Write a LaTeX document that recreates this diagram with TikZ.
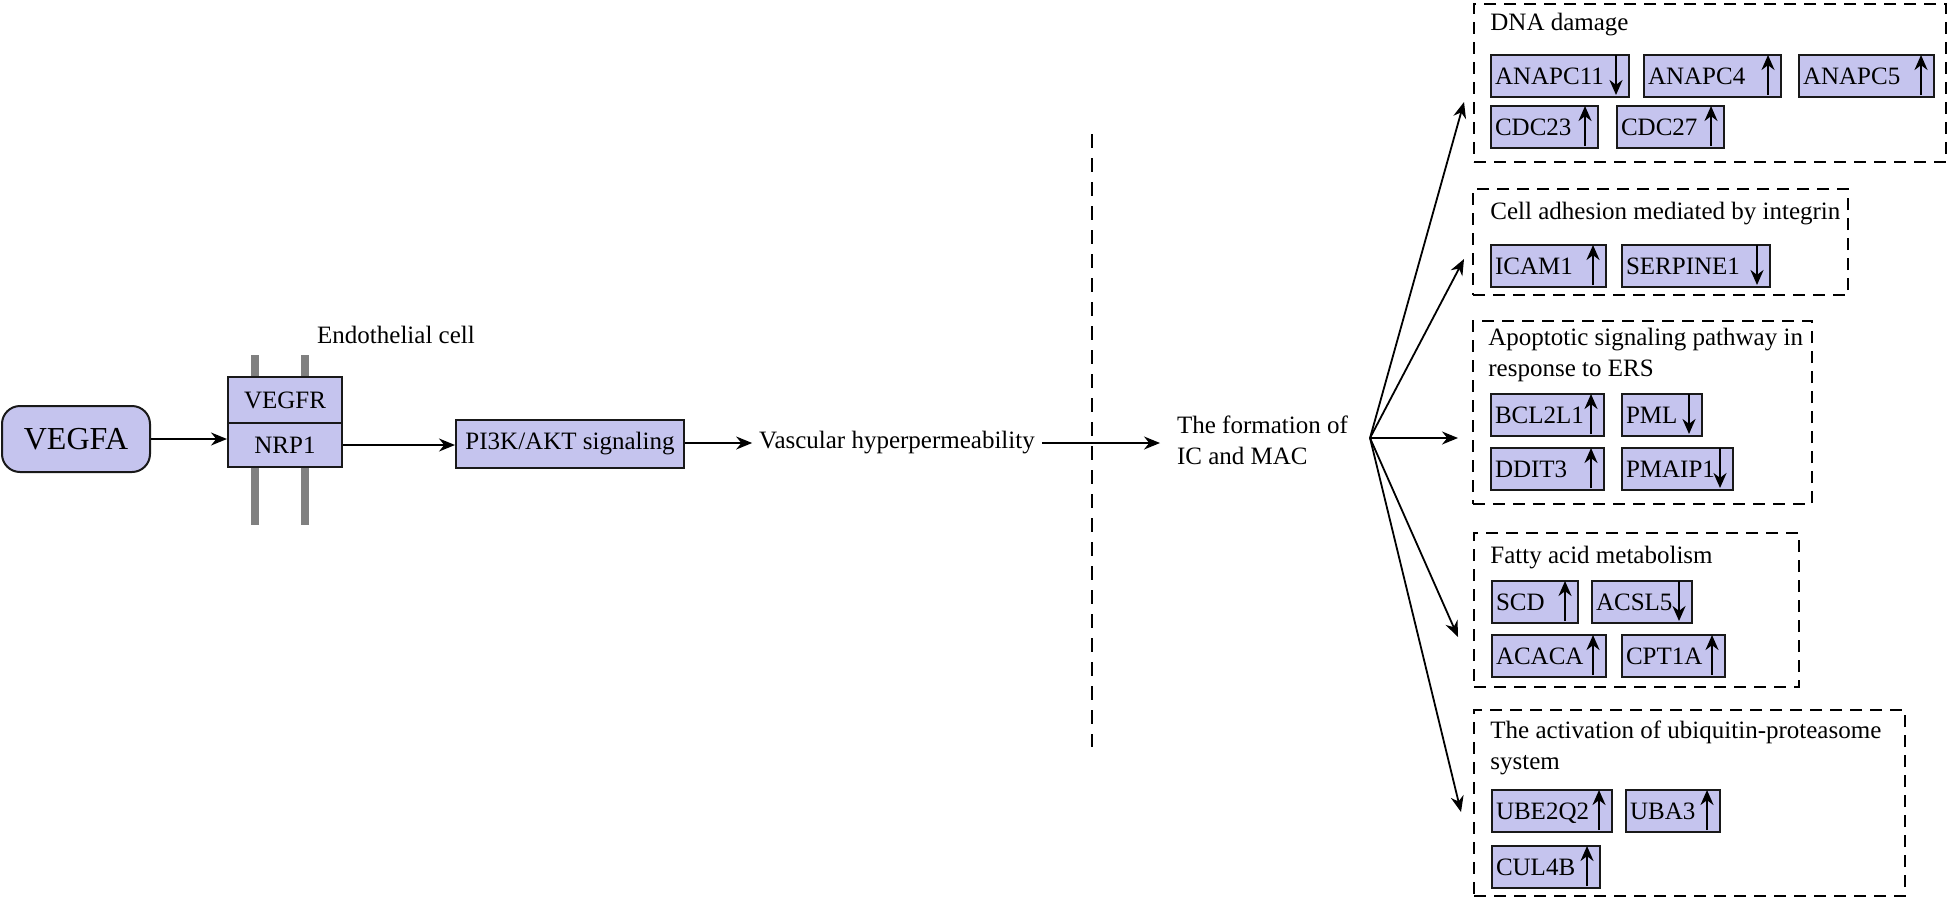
\documentclass[tikz,border=0pt]{standalone}
\usepackage{fontspec}
\setmainfont{Liberation Serif}
\usetikzlibrary{arrows.meta}

\definecolor{lav}{RGB}{197,196,238}
\definecolor{memgrey}{RGB}{128,128,128}

\tikzset{
  box/.style={draw=black!90, fill=lav, line width=1pt},
  gene/.style={box, anchor=north west, inner xsep=2pt, inner ysep=0pt, minimum height=21pt, align=left, text depth=-1pt},
  group/.style={draw, line width=1pt, dash pattern=on 6pt off 4pt},
  flow/.style={-{Stealth[length=8pt,width=6.5pt]}, line width=0.9pt},
  tick/.style={-{Stealth[length=7.5pt,width=6.5pt]}, line width=1.2pt},
  title/.style={anchor=west, inner sep=0pt, align=left},
}
% arrows inside the gene boxes
\newcommand{\upar}[1]{\draw[tick] ([xshift=-7pt,yshift=1.5pt]#1.south east) -- ([xshift=-7pt,yshift=-0.5pt]#1.north east);}
\newcommand{\dnar}[1]{\draw[tick] ([xshift=-7pt,yshift=-0.5pt]#1.north east) -- ([xshift=-7pt,yshift=1.5pt]#1.south east);}

\begin{document}
\begin{tikzpicture}[x=0.5pt, y=-0.5pt, font=\fontsize{12.5}{15.5}\selectfont]
\useasboundingbox (0,0) rectangle (1952,900);

% membrane
\draw[memgrey, line width=4pt] (255,355) -- (255,525);
\draw[memgrey, line width=4pt] (305,355) -- (305,525);

\node[box, rounded corners=9pt, minimum width=74pt, minimum height=33pt, font=\fontsize{16}{19}\selectfont] (VEGFA) at (76,439) {VEGFA};
\node (cell) at (396,335) {Endothelial cell};
\node[box, minimum width=57pt, minimum height=23pt, inner sep=0pt] (VEGFR) at (285,400) {VEGFR};
\node[box, minimum width=57pt, minimum height=22pt, inner sep=0pt] (NRP1) at (285,445) {NRP1};
\node[box, minimum width=114pt, minimum height=24pt] (PI3K) at (570,444) {PI3K/AKT signaling};
\node (vasc) at (897,443) {Vascular hyperpermeability};
\node[anchor=west, align=left] (form) at (1170,440) {The formation of\\IC and MAC};
\coordinate (fan) at (1370,438);

\draw[flow] (VEGFA.east) -- (VEGFA.east -| NRP1.west);
\draw[flow] (NRP1.east) -- (NRP1.east -| PI3K.west);
\draw[flow] (PI3K.east |- vasc.west) -- (vasc.west);
\draw[flow] (vasc.east) -- ([xshift=-5pt]vasc.east -| form.west);

\draw[line width=0.7pt, dash pattern=on 7pt off 5pt] (1092,134) -- (1092,747);

% groups
\node[group, minimum width=236pt, minimum height=79pt] (dna) at (1710,83) {};
\node[group, minimum width=187.5pt, minimum height=53pt] (adh) at (1660.5,242) {};
\node[group, minimum width=169.5pt, minimum height=91.5pt] (apo) at (1642.5,412.5) {};
\node[group, minimum width=162.5pt, minimum height=77pt] (fat) at (1636.5,610) {};
\node[group, minimum width=215.5pt, minimum height=93pt] (ubi) at (1689.5,803) {};

\draw[flow] (fan) -- ([shift={(-4.5pt,-9.5pt)}]dna.west);
\draw[flow] (fan) -- ([shift={(-4pt,-8.5pt)}]adh.west);
\draw[flow] (fan) -- ([shift={(-7pt,-12.75pt)}]apo.west);
\draw[flow] (fan) -- ([shift={(-7.5pt,-13.5pt)}]fat.west);
\draw[flow] (fan) -- ([shift={(-6pt,-4.5pt)}]ubi.west);

\node[title] (dnat) at (1490,25) {DNA damage};
\node[title] (adht) at (1490,214) {Cell adhesion mediated by integrin};
\node[title] (apot) at (1488,355) {Apoptotic signaling pathway in\\response to ERS};
\node[title] (fatt) at (1490,558) {Fatty acid metabolism};
\node[title] (ubit) at (1490,748) {The activation of ubiquitin-proteasome\\system};

% DNA damage
\node[gene, text width=65pt] (ANAPC11) at (1490,54) {ANAPC11};
\node[gene, text width=64.5pt] (ANAPC4) at (1643,54) {ANAPC4};
\node[gene, text width=63.5pt] (ANAPC5) at (1798,54) {ANAPC5};
\node[gene, text width=49.5pt] (CDC23) at (1490,105) {CDC23};
\node[gene, text width=49.5pt] (CDC27) at (1616,105) {CDC27};
\dnar{ANAPC11} \upar{ANAPC4} \upar{ANAPC5} \upar{CDC23} \upar{CDC27}

% cell adhesion
\node[gene, text width=53.5pt] (ICAM1) at (1490,244) {ICAM1};
\node[gene, text width=70pt] (SERPINE1) at (1621,244) {SERPINE1};
\upar{ICAM1} \dnar{SERPINE1}

% apoptosis
\node[gene, text width=52.5pt] (BCL2L1) at (1490,393) {BCL2L1};
\node[gene, text width=36pt] (PML) at (1621,393) {PML};
\node[gene, text width=52.5pt] (DDIT3) at (1490,447) {DDIT3};
\node[gene, text width=51.5pt] (PMAIP1) at (1621,447) {PMAIP1};
\upar{BCL2L1} \dnar{PML} \upar{DDIT3} \dnar{PMAIP1}

% fatty acid
\node[gene, text width=39pt] (SCD) at (1491,580) {SCD};
\node[gene, text width=46pt] (ACSL5) at (1591,580) {ACSL5};
\node[gene, text width=53pt] (ACACA) at (1491,634) {ACACA};
\node[gene, text width=47.5pt] (CPT1A) at (1621,634) {CPT1A};
\upar{SCD} \dnar{ACSL5} \upar{ACACA} \upar{CPT1A}

% ubiquitin-proteasome
\node[gene, text width=56pt] (UBE2Q2) at (1491,789) {UBE2Q2};
\node[gene, text width=43pt] (UBA3) at (1625,789) {UBA3};
\node[gene, text width=50pt] (CUL4B) at (1491,845) {CUL4B};
\upar{UBE2Q2} \upar{UBA3} \upar{CUL4B}

\end{tikzpicture}
\end{document}
